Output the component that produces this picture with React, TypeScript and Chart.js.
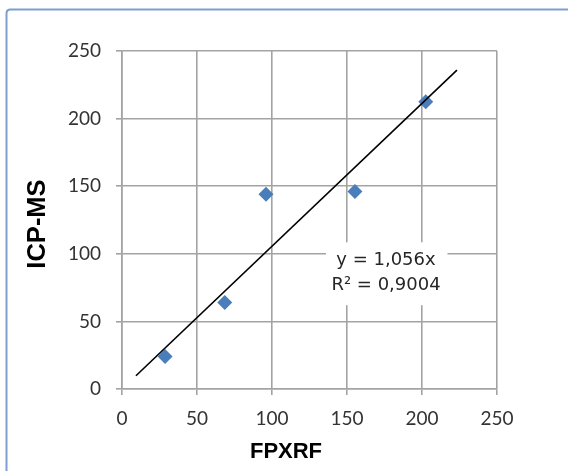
import React, { useEffect, useRef } from "react";
import { Chart, registerables } from "chart.js";

Chart.register(...registerables);

const fpxrf = [28.7, 68.5, 96, 155.3, 202.5];
const icpms = [24, 64, 144, 146, 212.5];
const trendX = [9.3, 223.3];
const trendY = [9.8, 235.8];
const axisTicks = [0, 50, 100, 150, 200, 250];
const equationLines = ["y = 1,056x", "R² = 0,9004"];
const xTitle = "FPXRF";
const yTitle = "ICP-MS";

const GRID = "#a3a3a3";
const TICK_COLOR = "#333333";

const framePlugin = {
  id: "frame",
  beforeDraw(chart: any) {
    const ctx = chart.ctx;
    ctx.save();
    ctx.fillStyle = "#ffffff";
    ctx.fillRect(0, 0, chart.width, chart.height);
    ctx.strokeStyle = "#7e9ed3";
    ctx.lineWidth = 2;
    ctx.beginPath();
    const x0 = 6.5, y0 = 9.5, r = 4;
    const x1 = chart.width + 20, y1 = chart.height + 20;
    ctx.moveTo(x0, y1);
    ctx.lineTo(x0, y0 + r);
    ctx.quadraticCurveTo(x0, y0, x0 + r, y0);
    ctx.lineTo(x1, y0);
    ctx.stroke();
    ctx.restore();
  },
  afterDraw(chart: any) {
    const ctx = chart.ctx;
    const xs = chart.scales.x;
    const ys = chart.scales.y;
    ctx.save();
    const cx = xs.getPixelForValue(176);
    const top = ys.getPixelForValue(108.5);
    const bottom = ys.getPixelForValue(62);
    const left = xs.getPixelForValue(136);
    const right = xs.getPixelForValue(217);
    ctx.fillStyle = "#ffffff";
    ctx.fillRect(left, top, right - left, bottom - top);
    ctx.fillStyle = "#262626";
    ctx.font = "18px 'DejaVu Sans'";
    ctx.textAlign = "center";
    ctx.textBaseline = "alphabetic";
    ctx.fillText(equationLines[0], cx, ys.getPixelForValue(91.5));
    ctx.fillText(equationLines[1], cx, ys.getPixelForValue(73.5));
    ctx.fillStyle = "#000000";
    ctx.textBaseline = "middle";
    ctx.font = "bold 22px 'Liberation Sans'";
    ctx.fillText(xTitle, chart.width / 2 + 2, 452);
    ctx.translate(37.5, (chart.chartArea.top + chart.chartArea.bottom) / 2 + 4);
    ctx.rotate(-Math.PI / 2);
    ctx.font = "bold 25.5px 'Liberation Sans'";
    ctx.fillText(yTitle, 0, 0);
    ctx.restore();
  },
};

export default function App() {
  const ref = useRef<HTMLCanvasElement>(null);
  useEffect(() => {
    if (!ref.current) return;
    const chart = new Chart(ref.current, {
      type: "scatter",
      data: {
        datasets: [
          {
            type: "line",
            label: "trend",
            data: trendX.map((x, i) => ({ x, y: trendY[i] })),
            borderColor: "#000000",
            borderWidth: 1.6,
            pointRadius: 0,
            fill: false,
          } as any,
          {
            label: "data",
            data: fpxrf.map((x, i) => ({ x, y: icpms[i] })),
            pointStyle: "rectRot",
            pointRadius: 7.5,
            backgroundColor: "#4a7ebb",
            borderColor: "#4a7ebb",
            borderWidth: 0,
          },
        ],
      },
      options: {
        animation: false,
        responsive: true,
        maintainAspectRatio: false,
        layout: { padding: { left: 0, top: 51, right: 71, bottom: 0 } },
        plugins: { legend: { display: false }, tooltip: { enabled: false }, title: { display: false } },
        scales: {
          x: {
            type: "linear",
            min: 0,
            max: 250,
            afterBuildTicks: (s: any) => {
              s.ticks = axisTicks.map((v) => ({ value: v }));
            },
            afterFit: (s: any) => {
              s.height = 82;
            },
            ticks: {
              font: { family: "Lato", size: 19 },
              color: TICK_COLOR,
              padding: 12,
            },
            grid: { color: GRID, lineWidth: 1.6, tickLength: 6, drawTicks: true },
            border: { display: true, color: GRID, width: 1.6 },
          },
          y: {
            type: "linear",
            min: 0,
            max: 250,
            afterBuildTicks: (s: any) => {
              s.ticks = axisTicks.map((v) => ({ value: v }));
            },
            afterFit: (s: any) => {
              s.width = 122;
            },
            ticks: {
              font: { family: "Lato", size: 19 },
              color: TICK_COLOR,
              padding: 15,
            },
            grid: { color: GRID, lineWidth: 1.6, tickLength: 6, drawTicks: true },
            border: { display: true, color: GRID, width: 1.6 },
          },
        },
      },
      plugins: [framePlugin],
    });
    return () => chart.destroy();
  }, []);
  return (
    <div style={{ position: "absolute", left: 0, top: 0, width: 568, height: 471 }}>
      <canvas ref={ref} />
    </div>
  );
}
